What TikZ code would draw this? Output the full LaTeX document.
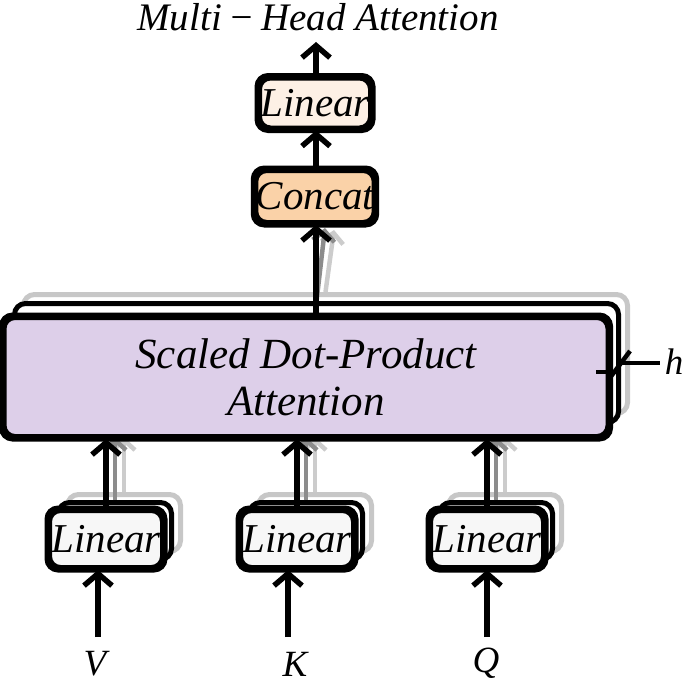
\documentclass[tikz,border=0pt]{standalone}
\usepackage{fontspec}
\setmainfont{Liberation Serif}
\usetikzlibrary{arrows.meta,calc}
\definecolor{sdpafill}{RGB}{221,207,233}
\definecolor{concatfill}{RGB}{250,210,168}
\definecolor{toplinfill}{RGB}{253,240,229}
\definecolor{linfill}{RGB}{247,247,247}
\begin{document}
\begin{tikzpicture}[x=1pt,y=-1pt,
  bx/.style={draw,line width=5pt,rounded corners=11pt,inner sep=0pt,font=\fontsize{41}{46}\selectfont\itshape},
  bxline/.style={draw,line width=5pt,rounded corners=11pt},
  copyblack/.style={draw,line width=5pt,rounded corners=11pt,fill=white,inner sep=0pt},
  copygray/.style={draw=black!22,line width=5pt,rounded corners=11pt,fill=white,inner sep=0pt},
  arr/.style={line width=5.5pt,-{Straight Barb[length=12pt,width=28pt]}},
  arrdg/.style={draw=black!45,line width=4.5pt,-{Straight Barb[length=10pt,width=22pt]}},
  arrlg/.style={draw=black!20,line width=4.5pt,-{Straight Barb[length=10pt,width=22pt]}},
  lab/.style={font=\fontsize{37}{40}\selectfont\itshape,inner sep=0pt}]
\useasboundingbox (0,0) rectangle (685,685);

% ---- stacked copies (gray, back) ----
\node[copygray,minimum width=604pt,minimum height=119pt] (sdpa3) at (325.5,354) {};
\foreach \n/\x in {v/106,k/297,q/487}{
  \node[copygray,minimum width=113pt,minimum height=57pt] (lin3\n) at (\x+18,523) {};
}
% ---- stacked copies (black, middle) ----
\node[copyblack,minimum width=604pt,minimum height=119pt] (sdpa2) at (316.5,363) {};
\foreach \n/\x in {v/106,k/297,q/487}{
  \node[copyblack,minimum width=113pt,minimum height=57pt] (lin2\n) at (\x+9,531) {};
}

% ---- shadow arrows ----
\draw[arrlg] (lin3v.north) -- (124,437);
\draw[arrlg] (lin3k.north) -- (315,437);
\draw[arrlg] (lin3q.north) -- (505,437);
\draw[arrdg] (lin2v.north) -- (115,437);
\draw[arrdg] (lin2k.north) -- (306,437);
\draw[arrdg] (lin2q.north) -- (496,437);
\draw[arrlg] (sdpa3.north) -- (334,230);
\draw[arrdg] (sdpa2.north) -- (325,228);

% ---- main boxes ----
\node[bx,fill=sdpafill,minimum width=604pt,minimum height=119pt,align=center,
  font=\fontsize{43}{47}\selectfont\itshape] (sdpa) at (306,377) {Scaled Dot-Product\\Attention};
\draw[bxline] (sdpa.south west) rectangle (sdpa.north east);

\foreach \n/\x in {v/106,k/297,q/487}{
  \node[bx,fill=linfill,minimum width=113pt,minimum height=57pt] (lin\n) at (\x,539) {Linear};
  \draw[bxline] (lin\n.south west) rectangle (lin\n.north east);
}

\node[bx,fill=concatfill,minimum width=111pt,minimum height=52pt] (concat) at (315,196.5) {Concat};
\draw[bxline] (concat.south west) rectangle (concat.north east);
\node[bx,fill=toplinfill,minimum width=111pt,minimum height=50pt] (toplin) at (315,103) {Linear};
\draw[bxline] (toplin.south west) rectangle (toplin.north east);

% ---- title & labels ----
\node[lab,font=\fontsize{39}{42}\selectfont\itshape] (title) at (318,17) {Multi\,−\,Head Attention};
\node[lab] (lv) at (95,664) {V};
\node[lab] (lk) at (295,664) {K};
\node[lab] (lq) at (486,663) {Q};

% ---- black arrows ----
\coordinate (inv) at (98,637);
\coordinate (ink) at (288,637);
\coordinate (inq) at (487,637);
\draw[arr] (inv) -- ($(linv.south)+(-8,0)$);
\draw[arr] (ink) -- ($(link.south)+(-9,0)$);
\draw[arr] (inq) -- (linq.south);
\draw[arr] (linv.north) -- (linv.north |- sdpa.south);
\draw[arr] (link.north) -- (link.north |- sdpa.south);
\draw[arr] (linq.north) -- (linq.north |- sdpa.south);
\draw[arr] ($(sdpa.north)+(10,0)$) -- ($(concat.south)+(1,0)$);
\draw[arr] ($(concat.north)+(1,0)$) -- ($(toplin.south)+(1,0)$);
\coordinate (outtop) at (316,42);
\draw[arr] ($(toplin.north)+(1,0)$) -- (outtop);

% ---- h marker ----
\coordinate (hs1) at (596,372);
\coordinate (hs2) at (612,372);
\coordinate (hsa) at (609,379);
\coordinate (hsb) at (630,351);
\coordinate (hl1) at (622,363);
\coordinate (hl2) at (660,363);
\draw[line width=4.5pt] (hs1) -- (hs2);
\draw[line width=4.5pt] (hsa) -- (hsb);
\draw[line width=4.5pt] (hl1) -- (hl2);
\node[lab] (hlab) at (674,362) {h};
\end{tikzpicture}
\end{document}
